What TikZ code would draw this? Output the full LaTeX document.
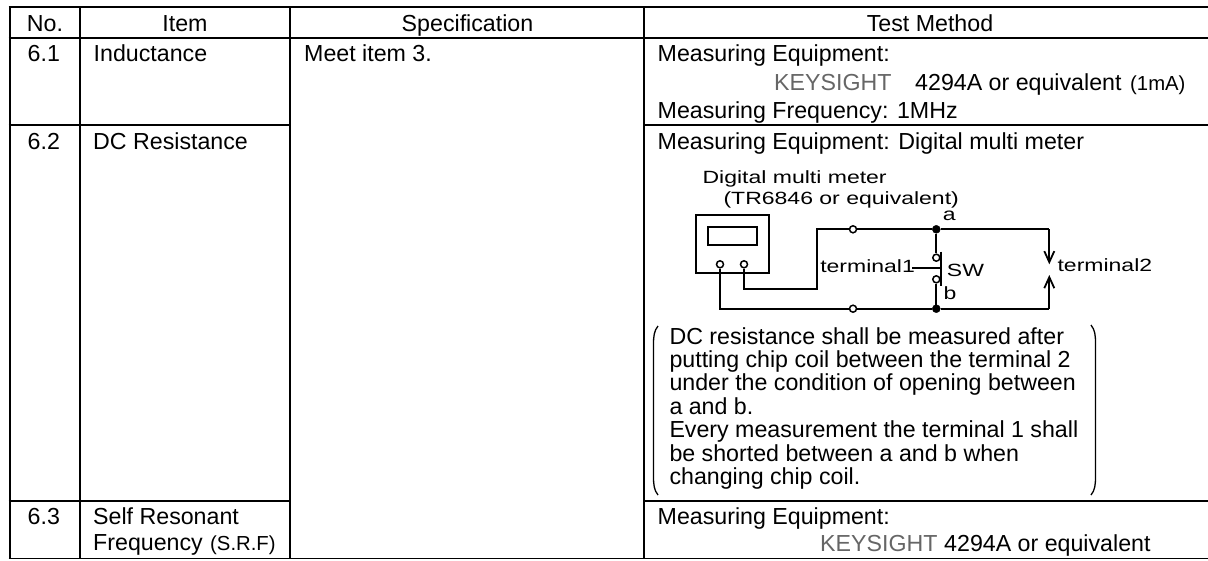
\documentclass[tikz,border=0pt]{standalone}
\usepackage{fontspec}
\setmainfont{Liberation Sans}
\usetikzlibrary{arrows.meta}

\tikzset{
    rule/.style={line width=2pt},
    wire/.style={line width=1.8pt},
    cell/.style={inner sep=0pt, anchor=base west, font=\fontsize{23.2}{28}\selectfont},
    midcell/.style={cell, anchor=base},
    small/.style={inner sep=0pt, anchor=base west, font=\fontsize{20.3}{24}\selectfont},
    brand/.style={cell, text=black!60},
    wide/.style={inner sep=0pt, anchor=base west, font=\fontsize{17.7}{20}\selectfont, xscale=1.3, transform shape},
    contact/.style={draw, circle, fill=white, line width=1.5pt, inner sep=0pt, minimum size=7pt},
    joint/.style={draw, circle, fill=black, inner sep=0pt, minimum size=8pt}
}

\begin{document}
\begin{tikzpicture}[x=1pt, y=-1pt, >={Straight Barb[length=11pt, width=10pt]}]
        \useasboundingbox (0, 0) rectangle (1208, 560);

        \foreach \x in {9.5, 80, 644}
            {
                \draw[rule] (\x, 6.7) -- (\x, 558.7);
            }
        \draw[rule] (290, 6.7) -- (290, 558.7);
        \draw[rule] (8.5, 6.7) -- (1208, 6.7);
        \draw[rule] (8.5, 37.5) -- (1208, 37.5);
        \draw[rule] (8.5, 124.7) -- (291, 124.7);
        \draw[rule] (643, 124.7) -- (1208, 124.7);
        \draw[rule] (8.5, 501) -- (291, 501);
        \draw[rule] (643, 501) -- (1208, 501);
        \draw[line width=1.5pt] (8.5, 558.7) -- (1208, 558.7);

        \node[name=head_no, midcell] at (45, 31.7) {No.};
        \node[name=head_item, midcell] at (185, 31.7) {Item};
        \node[name=head_spec, midcell] at (467.5, 31.7) {Specification};
        \node[name=head_test, midcell] at (930, 31.7) {Test Method};

        \foreach \n/\y/\t in {1/61.7/6.1, 2/149/6.2, 3/524/6.3}
            {
                \node[name=no_\n, cell] at (27.5, \y) {\t};
            }
        \node[name=item_1, cell] at (93.5, 61.7) {Inductance};
        \node[name=item_2, cell] at (93, 149) {DC Resistance};
        \node[name=item_3, cell] at (93, 524) {Self Resonant};
        \node[name=item_3b, cell] at (93, 550.7) {Frequency};
        \node[name=item_3c, small] at (210, 550.7) {(S.R.F)};
        \node[name=spec_1, cell] at (304, 61.7) {Meet item 3.};

        \node[name=equip_1, cell] at (657.5, 61.7) {Measuring Equipment:};
        \node[name=brand_1, brand] at (774, 90) {KEYSIGHT};
        \node[name=model_1, cell] at (915, 90) {4294A or equivalent};
        \node[name=level_1, small] at (1130, 90) {(1mA)};
        \node[name=freq_1, cell] at (657.5, 118.3) {Measuring Frequency: 1MHz};
        \node[name=equip_2, cell] at (657.5, 149.3) {Measuring Equipment: Digital multi meter};
        \node[name=equip_3, cell] at (657.5, 524) {Measuring Equipment:};
        \node[name=brand_3, brand] at (820, 551.7) {KEYSIGHT};
        \node[name=model_3, cell] at (944, 551.7) {4294A or equivalent};

        \foreach \n/\y/\t in {1/344.3/DC resistance shall be measured after,
                              2/367.7/putting chip coil between the terminal 2,
                              3/390.7/under the condition of opening between,
                              4/414.3/a and b.,
                              5/437.7/Every measurement the terminal 1 shall,
                              6/461/be shorted between a and b when,
                              7/484/changing chip coil.}
            {
                \node[name=note_\n, cell] at (669.3, \y) {\t};
            }
        \draw[line width=1.3pt] (658, 326) .. controls (654, 331) and (653.5, 336) .. (653.5, 345) -- (653.5, 476) .. controls (653.5, 485) and (654, 490) .. (658, 495);
        \draw[line width=1.3pt] (1091, 325) .. controls (1095, 330) and (1095.5, 335) .. (1095.5, 344) -- (1095.5, 476) .. controls (1095.5, 485) and (1095, 490) .. (1091, 495);

        \node[name=meter_1, wide] at (702.3, 183.3) {Digital multi meter};
        \node[name=meter_2, wide] at (723.3, 204.3) {(TR6846 or equivalent)};
        \node[name=label_a, wide] at (942.7, 220.7) {a};
        \node[name=label_b, wide] at (943.3, 299.3) {b};
        \node[name=label_sw, wide] at (946.7, 276.7) {SW};
        \node[name=label_t1, wide] at (820, 272.3) {terminal1};
        \node[name=label_t2, wide] at (1057.3, 271.7) {terminal2};

        \node[name=meter, draw, wire, rectangle, inner sep=0pt, minimum width=72.7pt, minimum height=58.6pt] at (732.6, 244) {};
        \node[name=display, draw, wire, rectangle, inner sep=0pt, minimum width=48.7pt, minimum height=18.3pt] at (732.6, 235.8) {};
        \node[name=term_l, contact] at (720, 264.3) {};
        \node[name=term_r, contact] at (744, 264.3) {};
        \node[name=open_t, contact] at (853, 229.3) {};
        \node[name=open_b, contact] at (853, 308.7) {};
        \node[name=joint_a, joint] at (936.3, 229.3) {};
        \node[name=joint_b, joint] at (936.3, 308.7) {};
        \node[name=sw_up, contact] at (936.3, 257.7) {};
        \node[name=sw_down, contact] at (936.3, 279.3) {};

        \coordinate (bend_r) at (816.7, 289.3);
        \coordinate (bend_t) at (816.7, 229.3);
        \coordinate (right_t) at (1049.3, 229.3);
        \coordinate (right_b) at (1049.3, 308.7);
        \coordinate (tip_t) at (1049.3, 264.3);
        \coordinate (tip_b) at (1049.3, 275);
        \coordinate (bar_t) at (941, 251.7);
        \coordinate (bar_b) at (941, 286);
        \coordinate (lever_l) at (912, 268.3);
        \coordinate (lever_r) at (941, 268.3);

        \draw[wire] (term_r) |- (bend_r) -- (bend_t) -- (open_t);
        \draw[wire] (open_t) -- (joint_a) -- (right_t);
        \draw[wire, ->] (right_t) -- (tip_t);
        \draw[wire] (term_l) |- (open_b);
        \draw[wire] (open_b) -- (joint_b) -- (right_b);
        \draw[wire, ->] (right_b) -- (tip_b);
        \draw[wire] (joint_a) -- (sw_up);
        \draw[wire] (joint_b) -- (sw_down);
        \draw[wire] (bar_t) -- (bar_b);
        \draw[wire] (lever_l) -- (lever_r);
    \end{tikzpicture}
\end{document}
